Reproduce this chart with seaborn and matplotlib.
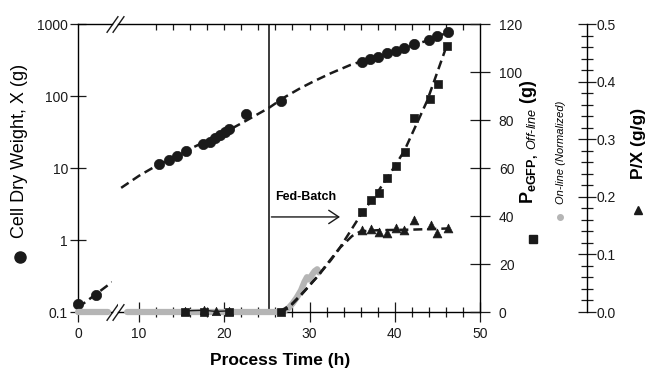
import matplotlib
matplotlib.use("Agg")
import matplotlib.pyplot as plt
from matplotlib.lines import Line2D
from matplotlib.ticker import FixedLocator, NullLocator, FuncFormatter
import seaborn as sns

# ---------------------------- data ----------------------------
# cell dry weight X (g) before the axis break
cdw_time_early = [0.0, 2.1]
cdw_early = [0.13, 0.172]
cdw_fit_time_early = [0.0, 4.0]
cdw_fit_early = [0.115, 0.26]

# cell dry weight X (g) after the break
cdw_time = [12.3, 13.5, 14.5, 15.5, 17.5, 18.35, 18.9, 19.5, 20.1, 20.6, 22.5, 26.6,
            36.1, 37.1, 38.0, 39.1, 40.1, 41.1, 42.2, 44.0, 45.0, 46.2]
cdw = [11.2, 12.9, 14.8, 17.2, 21.3, 23.2, 25.9, 28.7, 31.9, 34.9, 55.7, 85,
       299, 327, 351, 392, 422, 458, 523, 600, 689, 767]
cdw_fit_time = [7.9, 10, 12, 14, 16, 18, 20, 22.5, 25.2, 27, 28.9, 30.5, 32.5, 34.8,
                36, 38, 40, 42, 44, 46.3]
cdw_fit = [5.3, 7.8, 10.7, 14, 18.5, 24, 31, 45, 68, 95, 128, 160, 207, 270,
           300, 350, 410, 500, 600, 770]

# PeGFP off-line (g)
gfp_time = [15.4, 17.6, 20.6, 26.6, 36.1, 37.2, 38.1, 39.1, 40.1, 41.2, 42.2, 44.15, 45.1, 46.1]
gfp = [0, 0, 0, 0, 41.8, 46.7, 49.4, 55.7, 61, 66.8, 81, 88.7, 94.9, 110.8]
gfp_fit_time = [26.5, 27.5, 29.0, 30.9, 33.6, 36.1, 38.0, 39.5, 41.1, 43.8, 46.2]
gfp_fit = [0, 1.5, 7, 14.7, 27, 41, 50, 58, 67, 88, 112]

# on-line signal (normalized, PeGFP scale)
online_time_early = [0.0, 3.5]
online_early = [0.0, 0.0]
online_time = [8.6, 26.5, 27.0, 27.5, 28.0, 28.5, 29.0, 29.4, 29.7, 30.0, 30.3, 30.6, 30.9, 31.1]
online = [0, 0, 0.5, 1.5, 3.5, 6.0, 9.0, 12.5, 14.5, 13.5, 15.5, 17.0, 17.8, 16.5]

# P/X (g/g)
px_batch_time = [15.4, 17.6, 19.0, 20.6]
px_batch = [0.002, 0.003, 0.001, 0.002]
px_time = [36.1, 37.2, 38.1, 39.1, 40.1, 41.1, 42.2, 44.2, 45.0, 46.2]
px = [0.142, 0.1435, 0.139, 0.138, 0.145, 0.142, 0.160, 0.151, 0.137, 0.145]
px_fit_time = [26.5, 28.0, 29.5, 30.9, 32.5, 33.6, 35.0, 36.0, 38.0, 42.0, 46.2]
px_fit = [0.0, 0.015, 0.038, 0.061, 0.09, 0.112, 0.132, 0.140, 0.142, 0.143, 0.145]

fed_batch_start = 25.2

# ---------------------------- style ----------------------------
sns.set_theme(style="ticks")
plt.rcParams["font.family"] = ["Liberation Sans", "DejaVu Sans"]
plt.rcParams["mathtext.fontset"] = "custom"
plt.rcParams["mathtext.rm"] = "Liberation Sans"
plt.rcParams["mathtext.it"] = "Liberation Sans:italic"
plt.rcParams["mathtext.bf"] = "Liberation Sans:bold"
plt.rcParams["axes.linewidth"] = 1.0
plt.rcParams["text.color"] = "black"
plt.rcParams["axes.edgecolor"] = "black"

dash = (0, (3.6, 2.0))
GRAY = "#b5b5b5"

W, H = 647, 369
fig = plt.figure(figsize=(W / 100, H / 100), dpi=100)
bot = 1 - 312 / H
hgt = 288 / H
axL = fig.add_axes([78 / W, bot, 34 / W, hgt])
axR = fig.add_axes([118 / W, bot, 362 / W, hgt])
axL2 = axL.twinx()
ax2 = axR.twinx()
ax3 = axR.twinx()

for a in (axL, axR):
    a.set_yscale("log")
    a.set_ylim(0.1, 1000)
axL.set_xlim(0, 4.0)
axR.set_xlim(7.53, 50)
axL2.set_ylim(0, 120)
ax2.set_ylim(0, 120)
ax3.set_ylim(0, 0.5)
axL2.axis("off")

# ---------------------------- draw ----------------------------
# on-line signal (thick gray)
sns.lineplot(x=online_time_early, y=online_early, ax=axL2, color=GRAY, lw=4.5,
             sort=False, estimator=None, clip_on=False, zorder=1)
sns.lineplot(x=online_time, y=online, ax=ax2, color=GRAY, lw=4.5,
             sort=False, estimator=None, clip_on=False, zorder=1)

# cell dry weight
sns.lineplot(x=cdw_fit_time_early, y=cdw_fit_early, ax=axL, color="k", lw=1.8,
             linestyle=dash, sort=False, estimator=None)
sns.lineplot(x=cdw_fit_time, y=cdw_fit, ax=axR, color="k", lw=1.8,
             linestyle=dash, sort=False, estimator=None)
sns.scatterplot(x=cdw_time_early, y=cdw_early, ax=axL, marker="o", s=55, color="k",
                edgecolor="k", linewidth=0.5, clip_on=False, zorder=5)
sns.scatterplot(x=cdw_time, y=cdw, ax=axR, marker="o", s=55, color="k",
                edgecolor="k", linewidth=0.5, zorder=5)

# PeGFP off-line
sns.lineplot(x=gfp_fit_time, y=gfp_fit, ax=ax2, color="k", lw=1.8,
             linestyle=dash, sort=False, estimator=None)
sns.scatterplot(x=gfp_time, y=gfp, ax=ax2, marker="s", s=30, color="k",
                edgecolor="k", linewidth=0.5, clip_on=False, zorder=5)

# P/X
sns.lineplot(x=px_batch_time, y=px_batch, ax=ax3, color="k", lw=1.0,
             sort=False, estimator=None)
sns.lineplot(x=px_fit_time, y=px_fit, ax=ax3, color="k", lw=1.8,
             linestyle=dash, sort=False, estimator=None)
sns.scatterplot(x=px_batch_time, y=px_batch, ax=ax3, marker="^", s=36, color="k",
                edgecolor="k", linewidth=0.5, clip_on=False, zorder=5)
sns.scatterplot(x=px_time, y=px, ax=ax3, marker="^", s=40, color="k",
                edgecolor="k", linewidth=0.5, zorder=5)

# fed-batch marker
axR.axvline(fed_batch_start, color="k", lw=1.2)
axR.annotate("", xy=(33.9, 2.09), xytext=(fed_batch_start, 2.09),
             arrowprops=dict(arrowstyle="->,head_length=0.45,head_width=0.3",
                             lw=1.0, color="k", mutation_scale=16))
axR.text(26.0, 3.96, "Fed-Batch", fontsize=9, fontweight="bold", va="center", ha="left")

# ---------------------------- axes ----------------------------
for a in (axL, axR, axL2, ax2, ax3):
    a.set_xlabel("")
    a.set_ylabel("")

axL.spines["right"].set_visible(False)
axR.spines["left"].set_visible(False)
axR.spines["right"].set_visible(False)
for s in ("left", "top", "bottom"):
    ax2.spines[s].set_visible(False)
    ax3.spines[s].set_visible(False)
ax3.spines["right"].set_position(("axes", (587 - 118) / 362))

tick_kw = dict(colors="k", labelcolor="k", labelsize=10, width=0.9)
# left log axis
axL.set_yticks([0.1, 1, 10, 100, 1000], labels=["0.1", "1", "10", "100", "1000"])
axL.yaxis.set_minor_locator(NullLocator())
axL.tick_params(axis="y", direction="inout", length=11.5, pad=1.5, **tick_kw)
axR.yaxis.set_minor_locator(NullLocator())
axR.tick_params(axis="y", left=False, labelleft=False, right=False, labelright=False)

# x axes
axL.set_xticks([0], labels=["0"])
axL.xaxis.set_minor_locator(NullLocator())
axL.tick_params(axis="x", direction="inout", length=14, pad=4, **tick_kw)
axR.set_xticks([10, 20, 30, 40, 50], labels=["10", "20", "30", "40", "50"])
axR.xaxis.set_minor_locator(FixedLocator([t for t in range(12, 50, 2) if t % 10]))
axR.tick_params(axis="x", which="major", direction="inout", length=14, pad=4, **tick_kw)
axR.tick_params(axis="x", which="minor", direction="inout", length=7.5, width=0.9, colors="k")
top = axR.secondary_xaxis("top")
top.set_xticks(list(range(12, 50, 2)))
top.tick_params(direction="in", length=4.5, width=0.9, colors="k", labeltop=False)
top.spines["top"].set_visible(False)

# PeGFP axis
ax2.set_yticks(range(0, 121, 20))
ax2.tick_params(axis="y", direction="inout", length=15, pad=6, **tick_kw)

# P/X axis
ax3.set_yticks([0, 0.1, 0.2, 0.3, 0.4, 0.5])
ax3.yaxis.set_major_formatter(FuncFormatter(lambda v, p: f"{v:.1f}"))
ax3.yaxis.set_minor_locator(FixedLocator([i / 50 for i in range(26) if i % 5]))
ax3.tick_params(axis="y", which="major", direction="inout", length=13, pad=0.5, **tick_kw)
ax3.tick_params(axis="y", which="minor", direction="inout", length=8, width=0.9, colors="k")

# axis break marks
slash = [(-0.7, -1), (0.7, 1)]
brk = dict(marker=slash, markersize=12, linestyle="none", color="k", mec="k", mew=1.0, clip_on=False)
axL.plot([1, 1], [0, 1], transform=axL.transAxes, **brk)
axR.plot([0, 0], [0, 1], transform=axR.transAxes, **brk)

# ---------------------------- labels ----------------------------
fig.text(280 / W, 1 - 360 / H, "Process Time (h)", fontsize=12.5, fontweight="bold",
         ha="center", va="center")
fig.text(20 / W, 1 - 151 / H, "Cell Dry Weight, X (g)", fontsize=13, rotation=90,
         ha="center", va="center")
fig.add_artist(Line2D([20 / W], [1 - 257 / H], marker="o", ms=8, color="k",
                      transform=fig.transFigure))
fig.text(529 / W, 1 - 142 / H, r"P$_{\mathbf{eGFP,}\ \mathit{Off\text{-}line}}$ (g)",
         fontsize=13, fontweight="bold", rotation=90, ha="center", va="center")
fig.add_artist(Line2D([533 / W], [1 - 239 / H], marker="s", ms=6, color="k",
                      transform=fig.transFigure))
fig.text(561 / W, 1 - 152 / H, "On-line (Normalized)", fontsize=8, style="italic",
         rotation=90, ha="center", va="center")
fig.add_artist(Line2D([560 / W], [1 - 217 / H], marker="o", ms=4, color=GRAY,
                      transform=fig.transFigure))
fig.text(638 / W, 1 - 143 / H, "P/X (g/g)", fontsize=12.5, fontweight="bold",
         rotation=90, ha="center", va="center")
fig.add_artist(Line2D([638 / W], [1 - 210 / H], marker="^", ms=6, color="k",
                      transform=fig.transFigure))

fig.savefig("out.png", dpi=100)
